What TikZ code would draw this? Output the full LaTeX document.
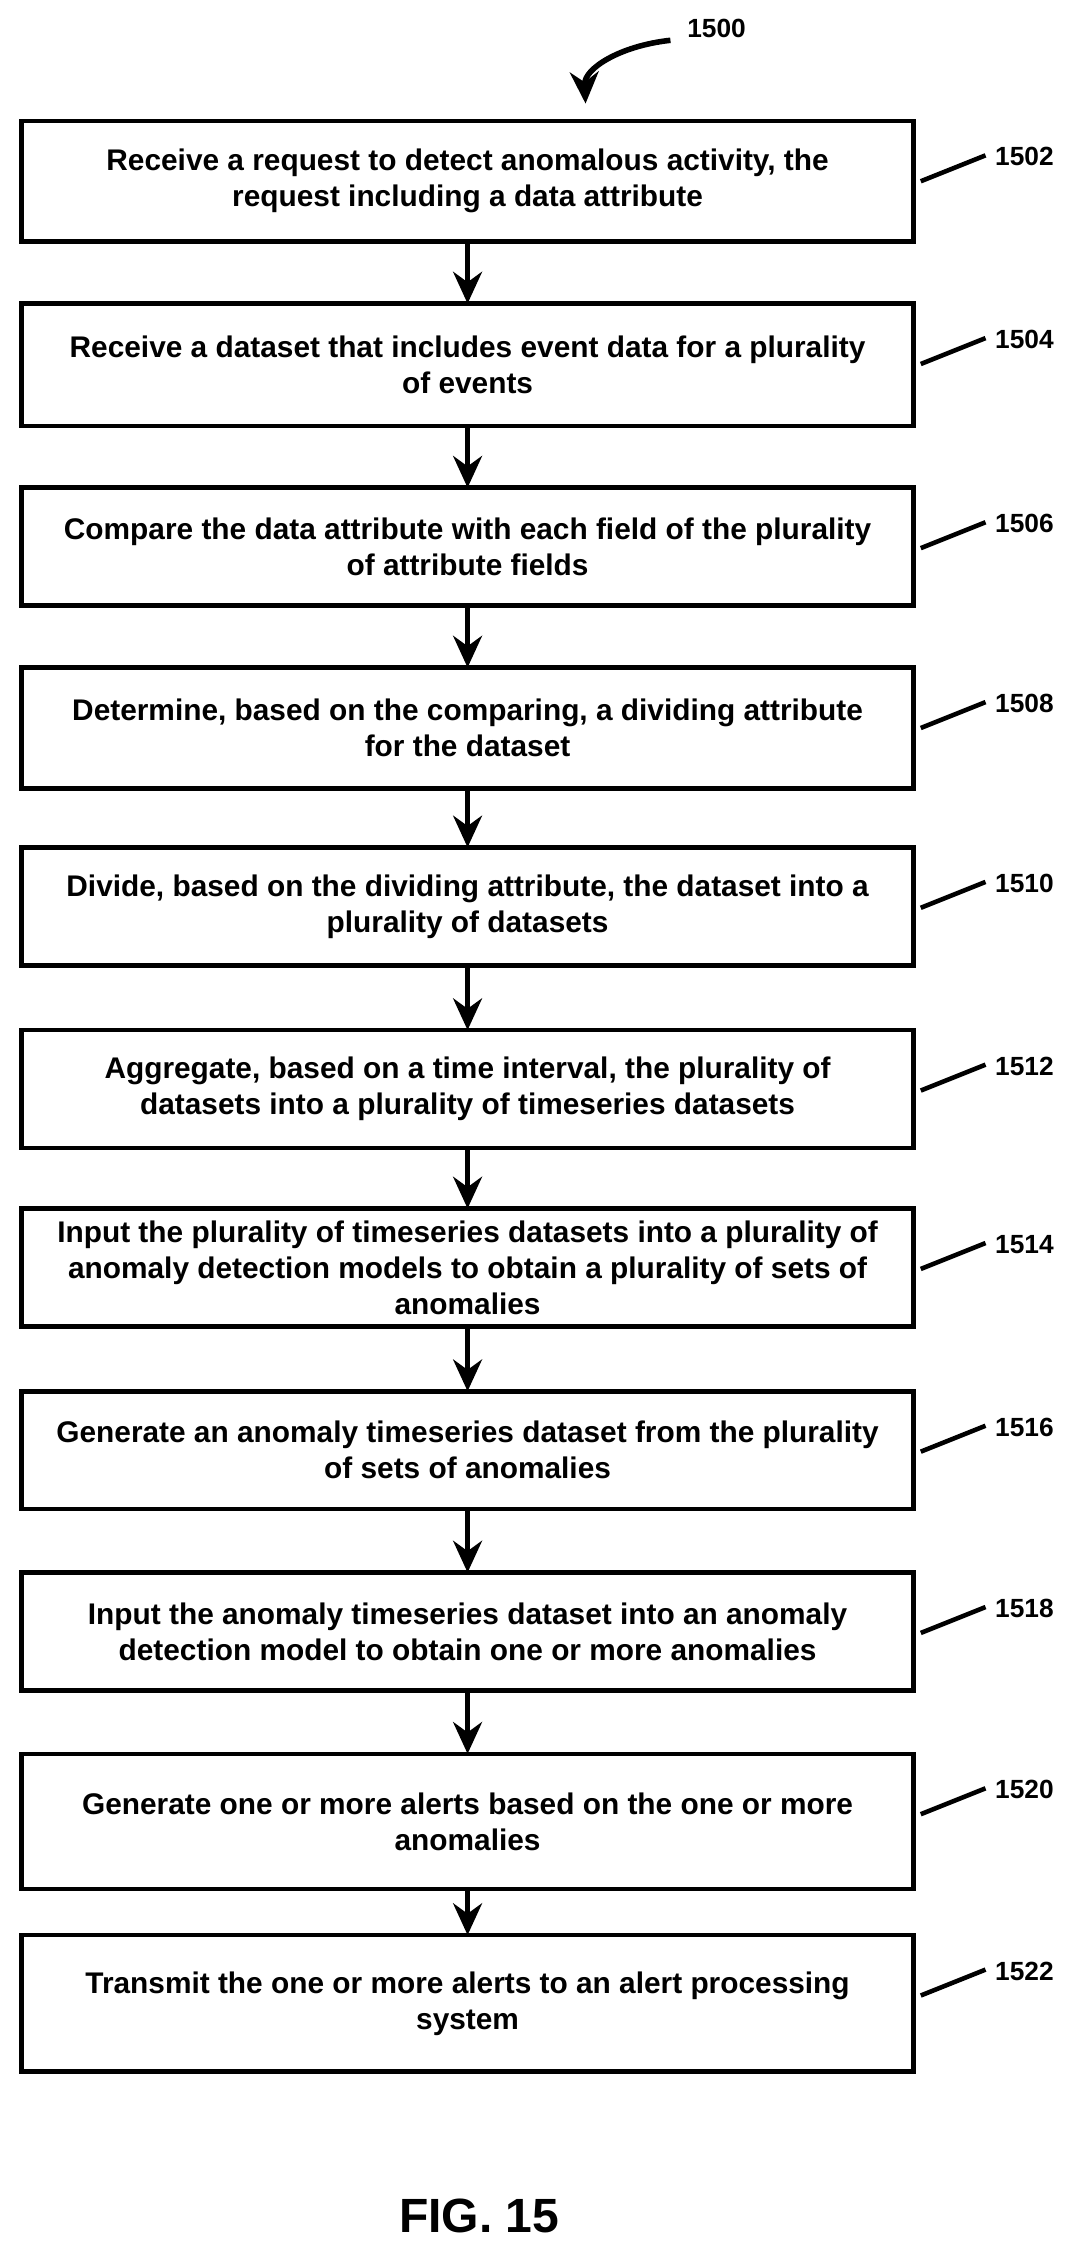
\documentclass[tikz,border=0pt]{standalone}
\usepackage{fontspec}
\setmainfont{Liberation Sans}
\usetikzlibrary{arrows.meta}
\begin{document}
\begin{tikzpicture}[x=0.1mm,y=-0.1mm,
  boxtext/.style={font=\bfseries\fontsize{5.9}{7.1}\selectfont,align=center},
  conn/.style={line width=1.1pt,-{Stealth[length=2.2mm,width=2mm]}},
  lbl/.style={font=\bfseries\fontsize{5.2}{6}\selectfont,anchor=west,inner sep=0pt}]
\useasboundingbox (0,0) rectangle (750,1566);
\def\boxes{84/168/1502/{Receive a request to detect anomalous activity, the\\request including a data attribute},
211/296/1504/{Receive a dataset that includes event data for a plurality\\of events},
339/421/1506/{Compare the data attribute with each field of the plurality\\of attribute fields},
464/548/1508/{Determine, based on the comparing, a dividing attribute\\for the dataset},
589/671/1510/{Divide, based on the dividing attribute, the dataset into a\\plurality of datasets},
716/798/1512/{Aggregate, based on a time interval, the plurality of\\datasets into a plurality of timeseries datasets},
840/922/1514/{Input the plurality of timeseries datasets into a plurality of\\anomaly detection models to obtain a plurality of sets of\\anomalies},
967/1049/1516/{Generate an anomaly timeseries dataset from the plurality\\of sets of anomalies},
1093/1175/1518/{Input the anomaly timeseries dataset into an anomaly\\detection model to obtain one or more anomalies},
1219/1313/1520/{Generate one or more alerts based on the one or more\\anomalies},
1345/1440/1522/{Transmit the one or more alerts to an alert processing\\system}}
\foreach \t/\b/\n/\txt in \boxes {
  \draw[line width=0.9pt] (15,\t) rectangle (635,\b);
  \node[boxtext] (b\n) at (325,{(\t+\b)/2}) {\txt};
  \coordinate (t\n) at (325,\t);
  \coordinate (d\n) at (325,\b);
  \draw[line width=0.9pt] (640,\t+42) -- (685,\t+24);
  \node[lbl] (l\n) at (691,\t+25) {\n};
}
\foreach \a/\c in {1502/1504,1504/1506,1506/1508,1508/1510,1510/1512,1512/1514,1514/1516,1516/1518,1518/1520,1520/1522}
  \draw[conn] (d\a) -- (t\c);
\node[lbl] (l1500) at (477,20) {1500};
\coordinate (s) at (466,28);
\coordinate (e) at (407,72);
\draw[line width=1.1pt,-{Stealth[length=2.2mm,width=2mm]}] (s) .. controls (430,32) and (406,48) .. (e);
\node[font=\bfseries\fontsize{9.5}{11}\selectfont] (fig) at (333,1540) {FIG. 15};
\end{tikzpicture}
\end{document}
